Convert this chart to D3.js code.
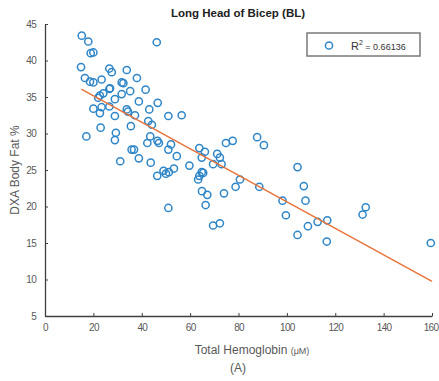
<!DOCTYPE html>
<html><head><meta charset="utf-8">
<script src="https://cdn.jsdelivr.net/npm/d3@7"></script>
<style>body{margin:0;background:#fff}svg{display:block}</style>
</head><body>
<svg id="c" width="439" height="381"></svg>
<script>
const hemoglobin = [15.2,17.9,18.9,20.0,46.2,14.9,26.6,27.6,33.8,16.5,18.6,20.0,23.4,38.0,31.7,32.4,26.9,26.6,41.6,35.2,24.1,22.7,22.0,31.7,28.9,38.8,46.6,20.0,23.4,26.6,33.8,34.3,43.1,22.7,28.9,37.2,51.0,56.5,42.7,44.2,23.0,35.5,29.3,17.1,43.5,28.9,42.3,46.5,47.1,52.1,51.0,35.8,36.8,54.5,31.1,38.8,43.7,53.3,49.0,50.0,51.2,46.4,59.7,51.0,63.8,66.1,64.8,74.8,77.6,71.2,72.3,87.7,90.5,69.5,73.0,64.8,65.4,63.8,63.3,80.6,78.8,88.6,64.9,67.1,74.0,66.4,98.2,99.6,69.5,72.3,104.4,107.0,107.7,132.6,131.3,108.7,112.7,116.7,104.4,116.5,159.5];
const bodyFat = [43.4,42.6,41.0,41.1,42.5,39.1,38.9,38.4,38.7,37.6,37.1,37.0,37.4,37.6,37.0,36.9,36.2,36.1,36.0,35.8,35.5,35.2,34.9,35.4,34.7,34.4,34.2,33.4,33.6,33.7,33.3,33.0,33.3,32.8,32.4,32.5,32.4,32.5,31.7,31.2,30.8,31.0,30.1,29.6,29.6,29.1,28.7,29.0,28.7,28.5,27.8,27.8,27.8,26.9,26.2,26.6,26.0,25.2,24.9,24.5,24.7,24.2,25.6,19.8,28.0,27.5,26.7,28.7,29.0,27.2,26.7,29.5,28.4,25.8,25.8,24.7,24.6,24.2,23.7,23.7,22.7,22.7,22.1,21.6,21.8,20.2,20.8,18.8,17.4,17.7,25.4,22.8,20.8,19.9,18.9,17.3,17.9,18.1,16.1,15.2,15.0];
const fitIntercept = 38.8, fitSlope = -0.1816, fitRange = [15, 160];
const xTicks = [0,20,40,60,80,100,120,140,160];
const yTicks = [5,10,15,20,25,30,35,40,45];
const rSquared = "0.66136";

const svg = d3.select("#c");
const x = d3.scaleLinear().domain([0,160]).range([45,432]);
const y = d3.scaleLinear().domain([5,45]).range([316,24]);
const font = "Liberation Sans, Arial, sans-serif";
const axisCol = "#404040", labCol = "#595959";

// axes
const xa = svg.append("g").attr("transform","translate(0,316)")
  .call(d3.axisBottom(x).tickValues(xTicks).tickSize(-3).tickPadding(8).tickSizeOuter(0));
const ya = svg.append("g").attr("transform","translate(45,0)")
  .call(d3.axisLeft(y).tickValues(yTicks).tickSize(-3).tickPadding(8).tickSizeOuter(0));
[xa,ya].forEach(a=>{
  a.select(".domain").attr("stroke",axisCol).attr("stroke-width",1.3);
  a.selectAll(".tick line").attr("stroke",axisCol).attr("stroke-width",1);
  a.selectAll(".tick text").attr("fill",labCol).attr("font-family",font).attr("font-size",10)
    .attr("letter-spacing",-0.7);
});
ya.selectAll(".tick text").attr("dx",-1);
xa.selectAll(".tick text").filter(d=>d===160).attr("dx",-1.5);

// points
svg.append("g").selectAll("circle").data(hemoglobin.map((h,i)=>[h,bodyFat[i]]))
  .join("circle").attr("cx",d=>x(d[0])).attr("cy",d=>y(d[1])).attr("r",3.6)
  .attr("fill","none").attr("stroke","#2e86c8").attr("stroke-width",1.5);

// fit line
svg.append("line")
  .attr("x1",x(fitRange[0])).attr("y1",y(fitIntercept+fitSlope*fitRange[0]))
  .attr("x2",x(fitRange[1])).attr("y2",y(fitIntercept+fitSlope*fitRange[1]))
  .attr("stroke","#e8743b").attr("stroke-width",1.5);

// title
svg.append("text").attr("x",238).attr("y",17).attr("text-anchor","middle")
  .attr("font-family",font).attr("font-weight","bold").attr("font-size",11.5).attr("fill","#222")
  .text("Long Head of Bicep (BL)");

// axis labels
const xl = svg.append("text").attr("x",252).attr("y",354).attr("text-anchor","middle")
  .attr("font-family",font).attr("fill",labCol).attr("font-size",12);
xl.append("tspan").text("Total Hemoglobin ");
xl.append("tspan").attr("font-size",9).text("(μM)");
svg.append("text").attr("x",238).attr("y",372).attr("text-anchor","middle")
  .attr("font-family",font).attr("fill",labCol).attr("font-size",12).text("(A)");
svg.append("text").attr("transform","translate(19,170) rotate(-90)").attr("text-anchor","middle")
  .attr("font-family",font).attr("fill",labCol).attr("font-size",12).text("DXA Body Fat %");

// legend
svg.append("rect").attr("x",307).attr("y",33).attr("width",113).attr("height",23)
  .attr("fill","#fff").attr("stroke","#7a7a7a").attr("stroke-width",1.5);
svg.append("circle").attr("cx",329).attr("cy",45.5).attr("r",3.6)
  .attr("fill","none").attr("stroke","#2e86c8").attr("stroke-width",1.5);
const lt = svg.append("text").attr("x",351).attr("y",50).attr("font-family",font).attr("fill","#333").attr("font-size",11);
lt.append("tspan").text("R");
lt.append("tspan").attr("font-size",7).attr("dy",-5).text("2");
lt.append("tspan").attr("font-size",9).attr("dy",5).text(" = " + rSquared);
</script>
</body></html>
